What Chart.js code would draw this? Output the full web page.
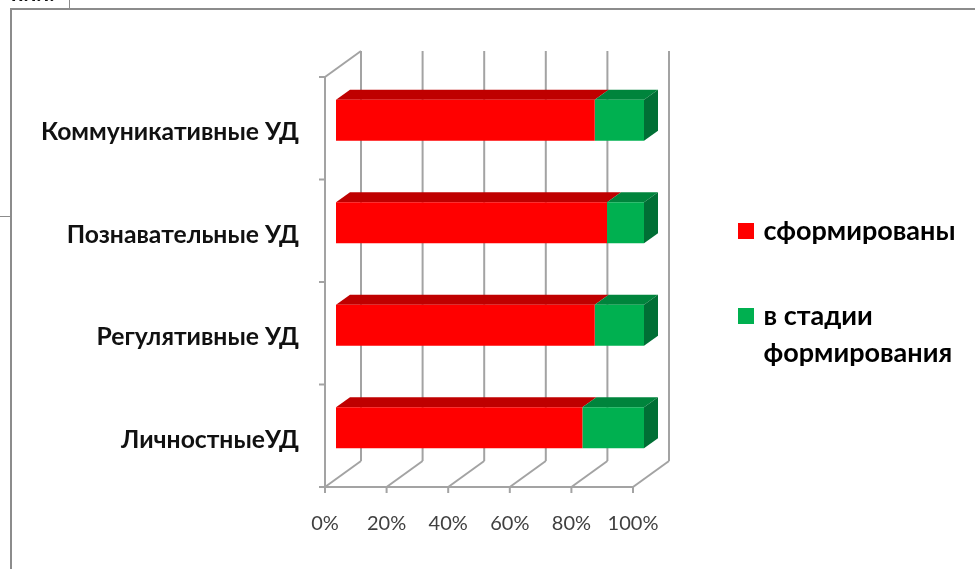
<!DOCTYPE html>
<html lang="ru">
<head>
<meta charset="utf-8">
<title>УД</title>
<style>html,body{margin:0;padding:0;background:#fff}canvas{display:block}</style>
<script src="https://cdn.jsdelivr.net/npm/chart.js@4"></script>
</head>
<body>
<canvas id="c" width="975" height="569"></canvas>
<script>
const categories = ['Коммуникативные УД', 'Познавательные УД', 'Регулятивные УД', 'ЛичностныеУД'];
const formed = [84, 88, 84, 80];
const forming = [16, 12, 16, 20];
const seriesNames = ['сформированы', ['в стадии', 'формирования']];
const tickStep = 20;

const FONT = 'Lato, "Open Sans", sans-serif';
const GRID = '#a3a3a3';
const FRONT = ['#ff0000', '#00b050'];
const TOP = ['#bf0000', '#00843c'];
const SIDE = '#006f35';
const barDX = 14, barDY = 10;          // depth of a bar
const planeDX = 11, planeDY = 8;       // axis plane to bar plane
const wallDX = 36, wallDY = 26;        // axis plane to back wall

function poly(ctx, pts, fill) {
  ctx.beginPath();
  pts.forEach((p, i) => i ? ctx.lineTo(p[0], p[1]) : ctx.moveTo(p[0], p[1]));
  ctx.closePath();
  ctx.fillStyle = fill;
  ctx.fill();
}
function seg(ctx, a, b, c, d) {
  ctx.beginPath(); ctx.moveTo(a, b); ctx.lineTo(c, d); ctx.stroke();
}

const frame3d = {
  id: 'frame3d',
  beforeLayout(chart) {
    const lg = chart.legend;
    if (lg && !lg._fixed) {
      const fit = lg.fit;
      lg.fit = function () { fit.call(this); this.width = 331; };
      lg._fixed = true;
    }
  },
  afterLayout(chart) {
    const lg = chart.legend;
    lg.left = 684; lg.right = 975; lg.top = 159.5;
  },
  beforeDraw(chart) {
    const { ctx } = chart;
    ctx.save();
    ctx.strokeStyle = '#8c8c8c';
    ctx.lineWidth = 2;
    ctx.beginPath();
    ctx.moveTo(11, 569); ctx.lineTo(11, 9); ctx.lineTo(975, 9);
    ctx.stroke();
    ctx.lineWidth = 1;
    seg(ctx, 69.5, 0, 69.5, 8);
    seg(ctx, 0, 216.5, 10, 216.5);
    ctx.fillStyle = '#111';
    ctx.font = 'bold 22px ' + FONT;
    ctx.textBaseline = 'alphabetic';
    ctx.fillText('ний.', 11, 1);
    ctx.restore();
  },
  beforeDatasetsDraw(chart) {
    const { ctx, chartArea: a, scales: { x, y } } = chart;
    const floor = a.bottom + planeDY;
    const roof = a.top + planeDY;
    ctx.save();
    ctx.strokeStyle = GRID;
    ctx.lineWidth = 2;
    x.ticks.forEach((t, i) => {
      const fx = x.getPixelForTick(i) - planeDX;
      seg(ctx, fx + wallDX, roof - wallDY - 0, fx + wallDX, floor - wallDY);
      seg(ctx, fx + wallDX, floor - wallDY, fx, floor);
      seg(ctx, fx, floor, fx, floor + 6);
    });
    const x0 = x.getPixelForValue(0) - planeDX;
    const x1 = x.getPixelForValue(100) - planeDX;
    seg(ctx, x0 - 6, floor, x1, floor);
    seg(ctx, x0, roof, x0, floor);
    seg(ctx, x0, roof, x0 + wallDX, roof - wallDY);
    categories.forEach((c, i) => {
      const band = y.getPixelForValue(i) - (y.getPixelForValue(1) - y.getPixelForValue(0)) / 2 + planeDY;
      seg(ctx, x0 - 6, band, x0, band);
    });
    chart.data.datasets.forEach((ds, di) => {
      chart.getDatasetMeta(di).data.forEach(b => {
        const t = b.y - b.height / 2, bot = b.y + b.height / 2;
        poly(ctx, [[b.base, t], [b.base + barDX, t - barDY], [b.x + barDX, t - barDY], [b.x, t]], TOP[di]);
        if (di === chart.data.datasets.length - 1) {
          poly(ctx, [[b.x, t], [b.x + barDX, t - barDY], [b.x + barDX, bot - barDY], [b.x, bot]], SIDE);
        }
      });
    });
    ctx.restore();
  }
};

new Chart(document.getElementById('c'), {
  type: 'bar',
  plugins: [frame3d],
  data: {
    labels: categories,
    datasets: [
      { label: 'сформированы', data: formed, backgroundColor: FRONT[0], borderWidth: 0 },
      { label: 'в стадии формирования', data: forming, backgroundColor: FRONT[1], borderWidth: 0 }
    ]
  },
  options: {
    indexAxis: 'y',
    responsive: false,
    animation: false,
    layout: { padding: { top: 69, right: 0, bottom: 0, left: 0 } },
    datasets: { bar: { categoryPercentage: 0.4, barPercentage: 1 } },
    scales: {
      x: {
        stacked: true, min: 0, max: 100,
        grid: { display: false },
        border: { display: false },
        ticks: {
          stepSize: tickStep, labelOffset: -planeDX, padding: 25, maxRotation: 0,
          color: '#404040', font: { family: FONT, size: 20 },
          callback: v => v + '%'
        },
        afterFit: s => { s.height = 569 - 479; }
      },
      y: {
        stacked: true,
        grid: { display: false },
        border: { display: false },
        ticks: {
          labelOffset: 12, padding: 29, autoSkip: false,
          color: '#111', font: { family: FONT, size: 24.7, weight: 'bold' }
        },
        afterFit: s => { s.width = 336; }
      }
    },
    plugins: {
      title: { display: false },
      tooltip: { enabled: false },
      legend: {
        display: true, position: 'right', align: 'start', reverse: false,
        labels: {
          boxWidth: 8, boxHeight: 8, padding: 58, color: '#111',
          font: { family: FONT, size: 27, weight: 'bold', lineHeight: 37 / 27 },
          generateLabels: chart => seriesNames.map((n, i) => ({
            text: n, fillStyle: FRONT[i], strokeStyle: FRONT[i], lineWidth: 8, datasetIndex: i, hidden: false
          }))
        }
      }
    }
  }
});
</script>
</body>
</html>
